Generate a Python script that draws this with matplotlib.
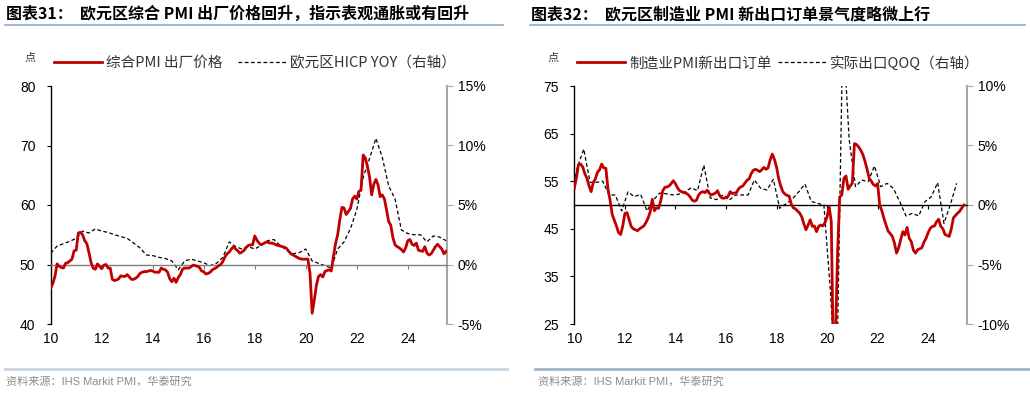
import numpy as np
import matplotlib
matplotlib.use("Agg")
import matplotlib.pyplot as plt
from matplotlib.lines import Line2D
from matplotlib import font_manager

plt.rcParams['font.family'] = ['Liberation Sans', 'Noto Sans CJK SC', 'DejaVu Sans']

# ---------------- data ----------------
# Chart 31: Eurozone composite PMI output prices (monthly, from Jan 2010)
pmi_price = [46.0, 46.8, 48.0, 50.1, 49.7, 49.5, 49.4, 50.2, 50.3, 50.6, 50.9, 52.3,
             52.4, 55.3, 55.4, 55.0, 54.0, 53.5, 52.0, 50.3, 49.4, 49.2, 50.1, 49.7,
             49.3, 49.9, 50.0, 49.4, 49.4, 47.5, 47.3, 47.4, 47.6, 48.1, 48.0, 48.0,
             48.3, 47.9, 47.5, 47.5, 47.7, 48.0, 48.5, 48.7, 48.8, 48.8, 48.9, 49.0,
             48.9, 48.7, 48.7, 48.7, 49.4, 49.2, 49.1, 48.7, 47.6, 47.1, 47.7, 47.0,
             47.8, 48.3, 49.2, 49.4, 49.4, 49.4, 49.6, 49.9, 49.8, 49.7, 49.5, 48.9,
             48.8, 48.4, 48.5, 48.7, 49.1, 49.3, 49.5, 49.8, 50.0, 50.5, 51.3, 51.8,
             52.1, 52.6, 53.0, 52.6, 52.3, 51.9, 52.1, 52.4, 52.9, 53.2, 53.3, 53.3,
             54.8, 54.1, 53.6, 53.3, 53.5, 53.7, 53.8, 53.6, 53.6, 53.5, 53.3, 53.2,
             53.1, 53.0, 52.9, 52.7, 52.2, 51.8, 51.6, 51.4, 51.2, 51.0, 50.9, 50.9,
             50.9, 50.9, 48.5, 41.8, 44.0, 46.5, 48.0, 48.3, 47.9, 48.8, 49.0, 49.1,
             48.9, 51.3, 53.5, 55.0, 57.5, 59.6, 59.5, 58.4, 58.9, 59.4, 61.0, 61.5,
             61.0, 62.3, 62.5, 68.4, 67.9, 66.5, 64.7, 61.7, 63.5, 64.3, 63.4, 61.4,
             61.7, 61.0, 59.2, 57.2, 56.6, 54.5, 53.3, 53.0, 52.8, 52.5, 52.1, 52.8,
             54.0, 54.2, 53.4, 53.2, 53.6, 52.4, 52.3, 52.2, 53.0, 51.9, 51.6, 51.8,
             52.4, 53.0, 53.4, 53.0, 52.6, 51.8, 52.2]
# Eurozone HICP YoY (%), quarterly readings starting Q1 2010
hicp_yoy = [0.95, 1.55, 1.75, 1.95, 2.2, 2.8, 2.65, 3.0, 2.8, 2.7, 2.5, 2.35,
            2.2, 1.8, 1.4, 0.8, 0.75, 0.6, 0.5, 0.3, -0.45, 0.3, 0.45, 0.3,
            0.15, -0.1, 0.1, 0.6, 1.9, 1.5, 1.3, 1.5, 1.3, 1.6, 2.0, 2.1,
            1.6, 1.2, 0.9, 1.0, 1.3, 0.3, 0.1, -0.1, -0.3, 1.3, 1.9, 3.0,
            4.6, 7.3, 8.9, 10.6, 9.0, 6.6, 5.5, 2.9, 2.6, 2.5, 2.5, 1.9,
            2.4, 2.3, 2.0]

# Chart 32: Eurozone manufacturing PMI new export orders (monthly, from Jan 2010)
pmi_export = [53.5, 55.7, 58.5, 58.6, 58.0, 56.6, 55.6, 54.0, 52.8, 54.7, 55.5, 56.9,
              57.4, 58.6, 57.8, 57.7, 53.3, 51.0, 48.0, 46.8, 45.6, 44.2, 43.8, 45.6,
              48.2, 48.4, 47.0, 45.5, 45.0, 44.8, 44.6, 45.0, 45.3, 45.6, 46.3, 47.2,
              48.5, 51.2, 48.8, 49.4, 49.3, 50.8, 53.0, 53.7, 53.8, 54.0, 54.5, 55.1,
              54.5, 53.6, 53.0, 52.8, 52.6, 52.5, 52.2, 51.7, 51.0, 50.8, 51.0, 52.1,
              52.6, 52.8, 52.6, 53.1, 52.5, 52.1, 52.3, 52.5, 53.0, 52.0, 51.5, 51.4,
              51.6, 51.8, 52.8, 52.4, 52.5, 52.6, 53.4, 53.8, 54.0, 54.6, 55.2, 55.5,
              56.6, 57.3, 57.5, 57.3, 57.0, 57.4, 57.9, 57.5, 57.8, 59.5, 60.7, 59.6,
              58.0, 55.6, 54.0, 52.8, 52.3, 52.0, 51.9, 50.2, 49.4, 49.2, 48.7, 48.3,
              47.5, 46.0, 44.8, 45.8, 46.9, 45.5, 45.6, 44.4, 45.5, 45.8, 45.6, 46.3,
              47.5, 49.7, 46.5, 18.0, 22.0, 40.0, 51.7, 52.1, 55.6, 56.1, 53.3, 54.0,
              54.6, 62.9, 62.7, 62.2, 61.5, 60.6, 59.2, 57.5, 55.6, 55.0, 54.3, 54.0,
              54.5, 50.0, 48.8, 47.2, 45.8, 44.5, 44.0, 43.4, 42.0, 39.9, 41.0, 42.8,
              44.4, 43.7, 45.3, 43.0, 42.3, 40.5, 39.9, 40.6, 40.8, 41.0, 42.2, 43.0,
              44.2, 45.1, 45.5, 45.6, 46.5, 47.0, 45.5, 45.0, 43.8, 43.6, 43.4, 45.0,
              47.3, 47.8, 48.3, 48.7, 49.4, 50.0]
# Eurozone real exports QoQ (%), quarterly from Q4 2009 to Q1 2025
export_qoq = [0.8, 3.2, 4.7, 1.9, 1.9, 2.0, 0.84, 0.84, -0.5, 1.1, 0.7, 0.9,
              -0.5, 0.4, 1.0, 0.95, 0.85, 0.9, 1.1, 1.45, 1.2, 3.35, 0.6, 0.45,
              0.84, 0.4, 0.84, 0.84, 0.84, 2.1, 1.4, 1.26, 2.16, -0.28, 0.1, 0.5,
              1.1, 1.76, 0.3, 0.14, 0.0, -7.0, -16.0, 15.0, 5.5, 1.54, 2.1, 1.96,
              3.28, 1.54, 1.82, 1.4, 0.28, -0.92, -0.7, -0.92, 0.28, 0.7, 1.88, -1.54,
              0.0, 1.82]

year_ticks = [2010, 2012, 2014, 2016, 2018, 2020, 2022, 2024]
year_labels = ['10', '12', '14', '16', '18', '20', '22', '24']

# time axes (decimal years)
t_price = 2010 + np.arange(len(pmi_price)) / 12
t_hicp = 2010 + 3 * np.arange(len(hicp_yoy)) / 12
t_export = 2010 + np.arange(len(pmi_export)) / 12
t_qoq = 2010 + (3 * (np.arange(len(export_qoq)) - 1) + 1.5) / 12

RED = '#c00000'
CJK = ['Noto Sans CJK SC', 'DejaVu Sans']
_names = {f.name for f in font_manager.fontManager.ttflist}
NARROW = 'Liberation Sans Narrow' if 'Liberation Sans Narrow' in _names else 'Liberation Sans'
SRC_FONT = [NARROW, 'Noto Sans CJK SC', 'DejaVu Sans']
XMAX = 2010 + 186.3 / 12

fig = plt.figure(figsize=(10.3, 3.93), dpi=100)
W, H = 1030, 393


def fx(px):
    return px / W


def fy(py):
    return 1 - py / H


def setup(ax, ylim, yticks, base, right_lim, right_ticks, base_color):
    ax.set_xlim(2010, XMAX)
    ax.set_ylim(*ylim)
    ax.set_yticks(yticks)
    ax.spines['top'].set_visible(False)
    ax.spines['right'].set_visible(False)
    ax.spines['left'].set_color('black')
    ax.spines['left'].set_linewidth(1.0)
    ax.spines['bottom'].set_position(('data', base))
    ax.spines['bottom'].set_color(base_color)
    ax.spines['bottom'].set_linewidth(1.0)
    ax.set_xticks(year_ticks)
    ax.tick_params(axis='x', direction='out', length=3, width=0.8,
                   color=base_color, labelbottom=False)
    ax.tick_params(axis='y', direction='out', length=3, width=0.8,
                   labelsize=10, pad=8)
    sec = ax.secondary_xaxis(0)
    sec.set_xticks(year_ticks)
    sec.set_xticklabels(year_labels)
    sec.spines['bottom'].set_visible(False)
    sec.tick_params(axis='x', length=0, labelsize=10, pad=6)
    axr = ax.twinx()
    axr.set_ylim(*right_lim)
    axr.set_yticks(right_ticks)
    axr.set_yticklabels([f'{v}%' for v in right_ticks])
    for s in ['top', 'left', 'bottom']:
        axr.spines[s].set_visible(False)
    axr.spines['right'].set_color('#a6a6a6')
    axr.spines['right'].set_linewidth(1.5)
    axr.tick_params(axis='y', direction='out', length=4, width=0.8,
                    color='#a6a6a6', labelsize=10, pad=4)
    return axr


# ---------- left chart ----------
ax1 = fig.add_axes([fx(50.7), fy(324), fx(446.7 - 50.7), (324 - 86) / H])
ax1r = setup(ax1, (40, 80), [40, 50, 60, 70, 80], 50, (-5, 15), [-5, 0, 5, 10, 15], '#7f7f7f')
ax1r.plot(t_hicp, hicp_yoy, color='black', lw=0.9, ls=(0, (3, 2)), zorder=2)
ax1.set_zorder(ax1r.get_zorder() + 1)
ax1.patch.set_visible(False)
ax1.plot(t_price, pmi_price, color=RED, lw=2.0, zorder=3)

# ---------- right chart ----------
ax2 = fig.add_axes([fx(574.3), fy(324), fx(966.7 - 574.3), (324 - 86) / H])
ax2r = setup(ax2, (25, 75), [25, 35, 45, 55, 65, 75], 50, (-10, 10), [-10, -5, 0, 5, 10], 'black')
ax2r.plot(t_qoq, export_qoq, color='black', lw=0.9, ls=(0, (3, 2)), zorder=2)
ax2.set_zorder(ax2r.get_zorder() + 1)
ax2.patch.set_visible(False)
ax2.plot(t_export, pmi_export, color=RED, lw=2.0, zorder=3)

# ---------- titles, rules, legends, sources ----------
fig.text(fx(6), fy(14), '图表31：  欧元区综合 PMI 出厂价格回升，指示表观通胀或有回升',
         fontsize=11.5, fontweight='bold', family=CJK, va='center', ha='left')
fig.text(fx(531), fy(14), '图表32：  欧元区制造业 PMI 新出口订单景气度略微上行',
         fontsize=11.5, fontweight='bold', family=CJK, va='center', ha='left')
fig.add_artist(Line2D([fx(5), fx(503)], [fy(24.5), fy(24.5)], color='#8eaacb', lw=1.2))
fig.add_artist(Line2D([fx(530), fx(1025)], [fy(24.5), fy(24.5)], color='#8eaacb', lw=1.2))
fig.add_artist(Line2D([fx(5), fx(507)], [fy(369), fy(369)], color='#c8d5e1', lw=2.0))
fig.add_artist(Line2D([fx(535), fx(1030)], [fy(369), fy(369)], color='#a3b5c8', lw=2.0))
fig.text(fx(6), fy(381), '资料来源：IHS Markit PMI，华泰研究', fontsize=8,
         color='#8c8c8c', family=SRC_FONT, va='center', ha='left')
fig.text(fx(538), fy(381), '资料来源：IHS Markit PMI，华泰研究', fontsize=8,
         color='#8c8c8c', family=SRC_FONT, va='center', ha='left')

fig.text(fx(25), fy(58), '点', fontsize=8, family=CJK, va='center', ha='left', color='#333333')
fig.text(fx(548), fy(58), '点', fontsize=8, family=CJK, va='center', ha='left', color='#333333')

h_red = Line2D([], [], color=RED, lw=2.0)
h_dash = Line2D([], [], color='black', lw=0.9, ls=(0, (3, 2)))
leg_kw = dict(frameon=False, ncol=2, handlelength=3.3, handletextpad=0.3,
              borderaxespad=0, borderpad=0,
              prop={'family': CJK, 'size': 10.5}, loc='center left')
leg1 = fig.legend([h_red, h_dash], ['综合PMI 出厂价格', '欧元区HICP YOY（右轴）'],
                  bbox_to_anchor=(fx(54), fy(63)), columnspacing=1.0, **leg_kw)
leg2 = fig.legend([h_red, h_dash], ['制造业PMI新出口订单', '实际出口QOQ（右轴）'],
                  bbox_to_anchor=(fx(577), fy(63)), columnspacing=0.4, **leg_kw)
for leg in (leg1, leg2):
    for t in leg.get_texts():
        t.set_color('#333333')

fig.savefig('out.png', dpi=100)
